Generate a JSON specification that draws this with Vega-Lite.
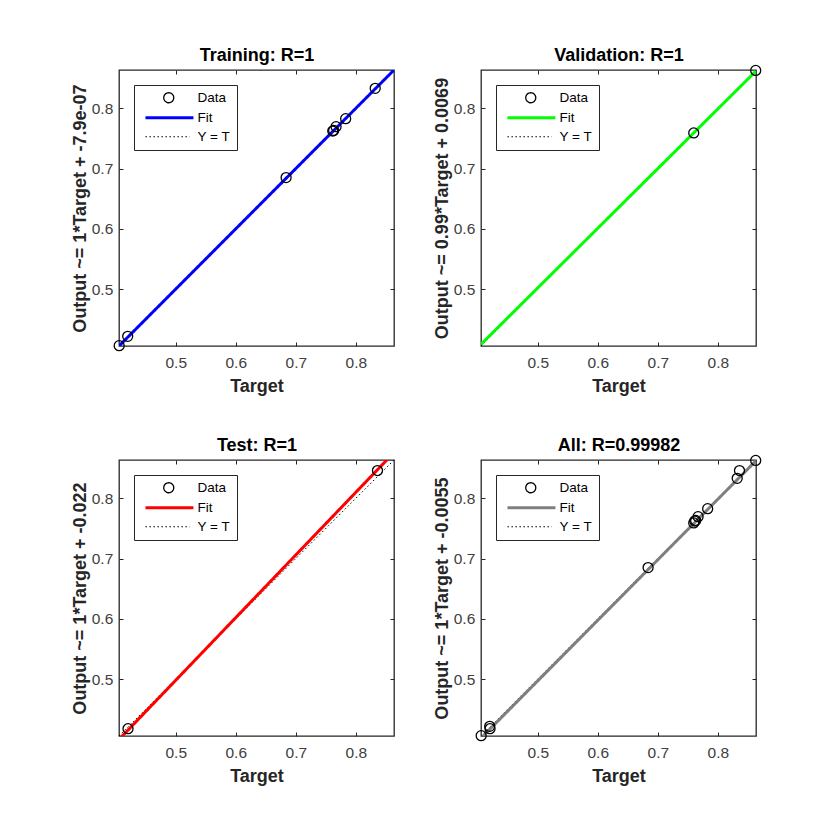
{
  "$schema": "https://vega.github.io/schema/vega-lite/v6.json",
  "background": "white",
  "padding": {"left": 70, "top": 45, "right": 20, "bottom": 20},
  "datasets": {
    "points": [
      {"panel": "Training", "target": 0.4058, "output": 0.4060},
      {"panel": "Training", "target": 0.4200, "output": 0.4215},
      {"panel": "Training", "target": 0.6838, "output": 0.6850},
      {"panel": "Training", "target": 0.7615, "output": 0.7622},
      {"panel": "Training", "target": 0.7630, "output": 0.7632},
      {"panel": "Training", "target": 0.7670, "output": 0.7695},
      {"panel": "Training", "target": 0.7830, "output": 0.7827},
      {"panel": "Training", "target": 0.8322, "output": 0.8331},
      {"panel": "Validation", "target": 0.7598, "output": 0.7590},
      {"panel": "Validation", "target": 0.8630, "output": 0.8628},
      {"panel": "Test", "target": 0.4205, "output": 0.4176},
      {"panel": "Test", "target": 0.8360, "output": 0.8460}
    ],
    "fits": [
      {"panel": "Training", "series": "Fit", "target": 0.4055, "output": 0.4055},
      {"panel": "Training", "series": "Fit", "target": 0.8635, "output": 0.8635},
      {"panel": "Validation", "series": "Fit", "target": 0.4055, "output": 0.4083},
      {"panel": "Validation", "series": "Fit", "target": 0.8635, "output": 0.8618},
      {"panel": "Test", "series": "Fit", "target": 0.4055, "output": 0.3997},
      {"panel": "Test", "series": "Fit", "target": 0.8635, "output": 0.8760},
      {"panel": "All", "series": "Fit", "target": 0.4055, "output": 0.4020},
      {"panel": "All", "series": "Fit", "target": 0.8635, "output": 0.8623}
    ],
    "ideal": [
      {"series": "Y = T", "target": 0.4055, "output": 0.4055},
      {"series": "Y = T", "target": 0.8635, "output": 0.8635}
    ]
  },
  "columns": 2,
  "spacing": {"row": 114, "column": 87},
  "bounds": "flush",
  "resolve": {
    "scale": {"color": "independent", "strokeDash": "independent"},
    "legend": {"color": "independent", "strokeDash": "independent"}
  },
  "concat": [
    {
      "width": 275, "height": 276,
      "resolve": {"axis": {"x": "independent", "y": "independent"}},
      "layer": [
        {
          "data": {"name": "ideal"},
          "mark": {"type": "line", "clip": true, "strokeWidth": 1},
          "encoding": {
            "x": {"field": "target", "type": "quantitative", "scale": {"domain": [0.4055, 0.8635], "nice": false, "zero": false}, "axis": {"orient": "bottom", "values": [0.5, 0.6, 0.7, 0.8], "format": ".1f", "title": "Target"}},
            "y": {"field": "output", "type": "quantitative", "scale": {"domain": [0.4055, 0.8635], "nice": false, "zero": false}, "axis": {"orient": "left", "values": [0.5, 0.6, 0.7, 0.8], "format": ".1f", "title": "Output ~= 1*Target + -7.9e-07"}},
            "color": {"field": "series", "type": "nominal", "scale": {"domain": ["Data", "Fit", "Y = T"], "range": ["#000000", "#0000ff", "#000000"]},
              "legend": {"title": null, "encode": {"symbols": {"update": {
                "shape": {"signal": "datum.value === 'Data' ? 'M 5.4,0 A 1,1 0 1,1 3.4,0 A 1,1 0 1,1 5.4,0 Z' : datum.value === 'Fit' ? 'M -0.26,0 L 9.34,0' : 'M -0.26,0 L 8.6,0'"},
                "strokeWidth": {"signal": "datum.value === 'Fit' ? 3 : datum.value === 'Data' ? 1.3 : 1"}}}}}},
            "strokeDash": {"field": "series", "type": "nominal", "scale": {"domain": ["Data", "Fit", "Y = T"], "range": [[1, 0], [1, 0], [1.5, 2.5]]}, "legend": {"title": null}}
          }
        },
        {
          "data": {"name": "fits"},
          "transform": [{"filter": "datum.panel == 'Training'"}],
          "mark": {"type": "line", "clip": true, "strokeWidth": 3},
          "encoding": {
            "x": {"field": "target", "type": "quantitative", "axis": {"orient": "top", "values": [0.5, 0.6, 0.7, 0.8], "labels": false, "title": "Training: R=1"}},
            "y": {"field": "output", "type": "quantitative", "axis": {"orient": "right", "values": [0.5, 0.6, 0.7, 0.8], "labels": false, "title": null}},
            "color": {"field": "series", "type": "nominal", "legend": {"title": null}},
            "strokeDash": {"field": "series", "type": "nominal", "legend": {"title": null}}
          }
        },
        {
          "data": {"name": "points"},
          "transform": [{"filter": "datum.panel == 'Training'"}],
          "mark": {"type": "point", "filled": false, "opacity": 1, "color": "#000000", "size": 100, "strokeWidth": 1.3},
          "encoding": {
            "x": {"field": "target", "type": "quantitative", "axis": null},
            "y": {"field": "output", "type": "quantitative", "axis": null}
          }
        }
      ]
    },
    {
      "width": 275, "height": 276,
      "resolve": {"axis": {"x": "independent", "y": "independent"}},
      "layer": [
        {
          "data": {"name": "ideal"},
          "mark": {"type": "line", "clip": true, "strokeWidth": 1},
          "encoding": {
            "x": {"field": "target", "type": "quantitative", "scale": {"domain": [0.4055, 0.8635], "nice": false, "zero": false}, "axis": {"orient": "bottom", "values": [0.5, 0.6, 0.7, 0.8], "format": ".1f", "title": "Target"}},
            "y": {"field": "output", "type": "quantitative", "scale": {"domain": [0.4055, 0.8635], "nice": false, "zero": false}, "axis": {"orient": "left", "values": [0.5, 0.6, 0.7, 0.8], "format": ".1f", "title": "Output ~= 0.99*Target + 0.0069"}},
            "color": {"field": "series", "type": "nominal", "scale": {"domain": ["Data", "Fit", "Y = T"], "range": ["#000000", "#00ff00", "#000000"]},
              "legend": {"title": null, "encode": {"symbols": {"update": {
                "shape": {"signal": "datum.value === 'Data' ? 'M 5.4,0 A 1,1 0 1,1 3.4,0 A 1,1 0 1,1 5.4,0 Z' : datum.value === 'Fit' ? 'M -0.26,0 L 9.34,0' : 'M -0.26,0 L 8.6,0'"},
                "strokeWidth": {"signal": "datum.value === 'Fit' ? 3 : datum.value === 'Data' ? 1.3 : 1"}}}}}},
            "strokeDash": {"field": "series", "type": "nominal", "scale": {"domain": ["Data", "Fit", "Y = T"], "range": [[1, 0], [1, 0], [1.5, 2.5]]}, "legend": {"title": null}}
          }
        },
        {
          "data": {"name": "fits"},
          "transform": [{"filter": "datum.panel == 'Validation'"}],
          "mark": {"type": "line", "clip": true, "strokeWidth": 3},
          "encoding": {
            "x": {"field": "target", "type": "quantitative", "axis": {"orient": "top", "values": [0.5, 0.6, 0.7, 0.8], "labels": false, "title": "Validation: R=1"}},
            "y": {"field": "output", "type": "quantitative", "axis": {"orient": "right", "values": [0.5, 0.6, 0.7, 0.8], "labels": false, "title": null}},
            "color": {"field": "series", "type": "nominal", "legend": {"title": null}},
            "strokeDash": {"field": "series", "type": "nominal", "legend": {"title": null}}
          }
        },
        {
          "data": {"name": "points"},
          "transform": [{"filter": "datum.panel == 'Validation'"}],
          "mark": {"type": "point", "filled": false, "opacity": 1, "color": "#000000", "size": 100, "strokeWidth": 1.3},
          "encoding": {
            "x": {"field": "target", "type": "quantitative", "axis": null},
            "y": {"field": "output", "type": "quantitative", "axis": null}
          }
        }
      ]
    },
    {
      "width": 275, "height": 276,
      "resolve": {"axis": {"x": "independent", "y": "independent"}},
      "layer": [
        {
          "data": {"name": "ideal"},
          "mark": {"type": "line", "clip": true, "strokeWidth": 1},
          "encoding": {
            "x": {"field": "target", "type": "quantitative", "scale": {"domain": [0.4055, 0.8635], "nice": false, "zero": false}, "axis": {"orient": "bottom", "values": [0.5, 0.6, 0.7, 0.8], "format": ".1f", "title": "Target"}},
            "y": {"field": "output", "type": "quantitative", "scale": {"domain": [0.4055, 0.8635], "nice": false, "zero": false}, "axis": {"orient": "left", "values": [0.5, 0.6, 0.7, 0.8], "format": ".1f", "title": "Output ~= 1*Target + -0.022"}},
            "color": {"field": "series", "type": "nominal", "scale": {"domain": ["Data", "Fit", "Y = T"], "range": ["#000000", "#ff0000", "#000000"]},
              "legend": {"title": null, "encode": {"symbols": {"update": {
                "shape": {"signal": "datum.value === 'Data' ? 'M 5.4,0 A 1,1 0 1,1 3.4,0 A 1,1 0 1,1 5.4,0 Z' : datum.value === 'Fit' ? 'M -0.26,0 L 9.34,0' : 'M -0.26,0 L 8.6,0'"},
                "strokeWidth": {"signal": "datum.value === 'Fit' ? 3 : datum.value === 'Data' ? 1.3 : 1"}}}}}},
            "strokeDash": {"field": "series", "type": "nominal", "scale": {"domain": ["Data", "Fit", "Y = T"], "range": [[1, 0], [1, 0], [1.5, 2.5]]}, "legend": {"title": null}}
          }
        },
        {
          "data": {"name": "fits"},
          "transform": [{"filter": "datum.panel == 'Test'"}],
          "mark": {"type": "line", "clip": true, "strokeWidth": 3},
          "encoding": {
            "x": {"field": "target", "type": "quantitative", "axis": {"orient": "top", "values": [0.5, 0.6, 0.7, 0.8], "labels": false, "title": "Test: R=1"}},
            "y": {"field": "output", "type": "quantitative", "axis": {"orient": "right", "values": [0.5, 0.6, 0.7, 0.8], "labels": false, "title": null}},
            "color": {"field": "series", "type": "nominal", "legend": {"title": null}},
            "strokeDash": {"field": "series", "type": "nominal", "legend": {"title": null}}
          }
        },
        {
          "data": {"name": "points"},
          "transform": [{"filter": "datum.panel == 'Test'"}],
          "mark": {"type": "point", "filled": false, "opacity": 1, "color": "#000000", "size": 100, "strokeWidth": 1.3},
          "encoding": {
            "x": {"field": "target", "type": "quantitative", "axis": null},
            "y": {"field": "output", "type": "quantitative", "axis": null}
          }
        }
      ]
    },
    {
      "width": 275, "height": 276,
      "resolve": {"axis": {"x": "independent", "y": "independent"}},
      "layer": [
        {
          "data": {"name": "ideal"},
          "mark": {"type": "line", "clip": true, "strokeWidth": 1},
          "encoding": {
            "x": {"field": "target", "type": "quantitative", "scale": {"domain": [0.4055, 0.8635], "nice": false, "zero": false}, "axis": {"orient": "bottom", "values": [0.5, 0.6, 0.7, 0.8], "format": ".1f", "title": "Target"}},
            "y": {"field": "output", "type": "quantitative", "scale": {"domain": [0.4055, 0.8635], "nice": false, "zero": false}, "axis": {"orient": "left", "values": [0.5, 0.6, 0.7, 0.8], "format": ".1f", "title": "Output ~= 1*Target + -0.0055"}},
            "color": {"field": "series", "type": "nominal", "scale": {"domain": ["Data", "Fit", "Y = T"], "range": ["#000000", "#7f7f7f", "#000000"]},
              "legend": {"title": null, "encode": {"symbols": {"update": {
                "shape": {"signal": "datum.value === 'Data' ? 'M 5.4,0 A 1,1 0 1,1 3.4,0 A 1,1 0 1,1 5.4,0 Z' : datum.value === 'Fit' ? 'M -0.26,0 L 9.34,0' : 'M -0.26,0 L 8.6,0'"},
                "strokeWidth": {"signal": "datum.value === 'Fit' ? 3 : datum.value === 'Data' ? 1.3 : 1"}}}}}},
            "strokeDash": {"field": "series", "type": "nominal", "scale": {"domain": ["Data", "Fit", "Y = T"], "range": [[1, 0], [1, 0], [1.5, 2.5]]}, "legend": {"title": null}}
          }
        },
        {
          "data": {"name": "fits"},
          "transform": [{"filter": "datum.panel == 'All'"}],
          "mark": {"type": "line", "clip": true, "strokeWidth": 3},
          "encoding": {
            "x": {"field": "target", "type": "quantitative", "axis": {"orient": "top", "values": [0.5, 0.6, 0.7, 0.8], "labels": false, "title": "All: R=0.99982"}},
            "y": {"field": "output", "type": "quantitative", "axis": {"orient": "right", "values": [0.5, 0.6, 0.7, 0.8], "labels": false, "title": null}},
            "color": {"field": "series", "type": "nominal", "legend": {"title": null}},
            "strokeDash": {"field": "series", "type": "nominal", "legend": {"title": null}}
          }
        },
        {
          "data": {"name": "points"},
          "mark": {"type": "point", "filled": false, "opacity": 1, "color": "#000000", "size": 100, "strokeWidth": 1.3},
          "encoding": {
            "x": {"field": "target", "type": "quantitative", "axis": null},
            "y": {"field": "output", "type": "quantitative", "axis": null}
          }
        }
      ]
    }
  ],
  "config": {
    "font": "Liberation Sans",
    "view": {"stroke": "#262626", "strokeWidth": 1.3},
    "axis": {
      "grid": false, "domain": false,
      "tickSize": -4, "tickColor": "#262626", "tickWidth": 1,
      "labelFont": "Liberation Sans", "labelFontSize": 15.5, "labelColor": "#404040",
      "titleFont": "Liberation Sans", "titleFontSize": 18, "titleFontWeight": "bold", "titleColor": "#262626"
    },
    "axisBottom": {"labelPadding": 13.5, "titlePadding": 6},
    "axisLeft": {"labelPadding": 10.2, "titlePadding": 2},
    "axisTop": {"titlePadding": 5, "titleColor": "#000000"},
    "legend": {
      "orient": "top-left", "offset": 15, "padding": 6, "symbolSize": 100,
      "fillColor": "white", "strokeColor": "#262626", "strokeWidth": 1, "cornerRadius": 0,
      "labelFont": "Liberation Sans", "labelFontSize": 13.5, "labelColor": "#000000", "labelOffset": 44,
      "rowPadding": 4
    }
  }
}
